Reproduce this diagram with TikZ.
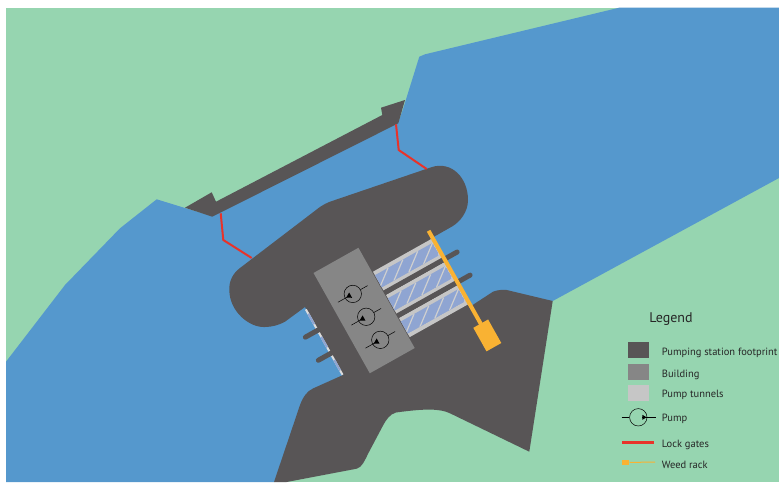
\documentclass[tikz,border=0pt]{standalone}
\usepackage{fontspec}
\setmainfont{PT Sans}
\definecolor{landgreen}{HTML}{96D5B0}
\definecolor{waterblue}{HTML}{5598CD}
\definecolor{stationgrey}{HTML}{585556}
\definecolor{buildinggrey}{HTML}{868686}
\definecolor{tunnelgrey}{HTML}{C6C6C6}
\definecolor{cellblue}{HTML}{8FA5D2}
\definecolor{rackorange}{HTML}{F9B233}
\definecolor{gatered}{HTML}{E8332A}
\tikzset{
  pier/.style={stationgrey,line width=5pt,line cap=round},
  gateline/.style={gatered,line width=2pt},
  rackline/.style={rackorange,line width=4pt},
  pumpring/.style={circle,draw=black,line width=0.5pt,inner sep=0pt,minimum size=17.4pt},
  pumpline/.style={black,line width=0.5pt},
  swatch/.style={minimum width=21.5pt,minimum height=15.8pt,inner sep=0pt},
  keylabel/.style={anchor=west,inner sep=0pt,font=\fontsize{10.5}{12}\selectfont,text=black!85},
}
\begin{document}
\begin{tikzpicture}[x=1pt,y=-1pt]
      \useasboundingbox (0,0) rectangle (779,482);
      \fill[white] (0,0) rectangle (779,482);
      \fill[landgreen] (6,7.5) rectangle (779,482);

      % water
      \fill[waterblue] (6,361.7) -- (65,285) -- (120,228.3) -- (156.7,199.3) -- (185,208)
        -- (212,216) -- (398,123) -- (402.7,110) -- (419.3,56.7) -- (425,54.3) -- (620,7.5)
        -- (779,7.5) -- (779,178) -- (552.7,301) -- (460,340) -- (330,400) -- (274,482)
        -- (6,482) -- cycle;

      % top wall
      \fill[stationgrey] (185,207.7) -- (211.7,192.3) -- (216,201.7) -- (382.3,115) -- (381,107.7)
        -- (405,100) -- (398.3,123.3) -- (212.3,216.7) -- cycle;

      % footprint
      \fill[stationgrey] (240,268) -- (316,210) .. controls (322,205) and (328,202) .. (335,200)
        -- (432,167) .. controls (452,161) and (468,178) .. (468,200)
        .. controls (468,212) and (460,222) .. (451.7,226.7) -- (430,239) -- (470,306.7)
        -- (493,291.7) .. controls (497,290) and (503,289.5) .. (506.7,290) -- (552.7,301)
        -- (529.3,451.7) -- (450,413.3) .. controls (440,408.5) and (425,408.5) .. (396,412.5)
        .. controls (390,414) and (386,420) .. (383.3,425) -- (368.3,453.3)
        .. controls (365,460) and (362,467.5) .. (356.7,468.7) -- (286.7,482) -- (274,482)
        -- (300,405) .. controls (303,397) and (307,391) .. (313.3,388.3) -- (343,375)
        -- (305,307) -- (285,321.7) .. controls (279,325) and (272,327) .. (265,327)
        .. controls (250,328) and (229.5,312) .. (229.3,290)
        .. controls (229,282) and (232,274) .. (240,268) -- cycle;

      % lock gates
      \coordinate (gateAa) at (220.7,213.3);
      \coordinate (gateAb) at (223.3,240);
      \coordinate (gateAc) at (251.7,258);
      \coordinate (gateBa) at (396,124.3);
      \coordinate (gateBb) at (398.7,150);
      \coordinate (gateBc) at (426.7,169);
      \draw[gateline] (gateAa) -- (gateAb) -- (gateAc);
      \draw[gateline] (gateBa) -- (gateBb) -- (gateBc);

      \begin{scope}[shift={(373,271.7)},rotate=29.3]
        % tunnels and outlets
        \foreach \row in {0,26.5,53}{
          \fill[tunnelgrey] (0,\row) rectangle (67,\row+22);
          \begin{scope}
            \clip (0,\row+4) rectangle (66,\row+18);
            \fill[cellblue] (0,\row+4) rectangle (66,\row+18);
            \foreach \cell in {-3,14,31,48,65}
              \draw[tunnelgrey!85!white,line width=1.2pt] (\cell,\row+18) -- (\cell+18,\row+4);
          \end{scope}
          \draw[tunnelgrey!60!white,line width=2pt] (-77,\row) -- (-77,\row+22);
          \draw[cellblue,line width=2pt] (-77,\row+5) -- (-77,\row+17);
        }
        \coordinate (pierAa) at (0,24);
        \coordinate (pierAb) at (83,24);
        \coordinate (pierBa) at (0,50.5);
        \coordinate (pierBb) at (83,50.5);
        \coordinate (pierCa) at (-76,24);
        \coordinate (pierCb) at (-91,24);
        \coordinate (pierDa) at (-76,50.5);
        \coordinate (pierDb) at (-91,50.5);
        \draw[pier] (pierAa) -- (pierAb);
        \draw[pier] (pierBa) -- (pierBb);
        \draw[pier] (pierCa) -- (pierCb);
        \draw[pier] (pierDa) -- (pierDb);

        % weed rack
        \coordinate (rackA) at (68.5,-8.5);
        \coordinate (rackB) at (68.5,100);
        \draw[rackline] (rackA) -- (rackB);
        \fill[rackorange] (60,98) rectangle (77,125);

        % building and pumps
        \fill[buildinggrey] (-52.5,-28) rectangle (-1,87);
        \node[pumpring] (pumpA) at (-28.5,9.5){};
        \node[pumpring] (pumpB) at (-28,36){};
        \node[pumpring] (pumpC) at (-27,63){};
        \foreach \pump in {pumpA,pumpB,pumpC}{
          \draw[pumpline] (\pump.center) ++(8.7,0) -- ++(8.3,0);
          \draw[pumpline] (\pump.center) ++(-4,0) -- ++(-13,0);
          \fill[black] (\pump.center) ++(-2.5,-3) -- ++(0,6) -- ++(-5,-3) -- cycle;
        }
      \end{scope}

      % legend
      \node[inner sep=0pt,font=\fontsize{14}{16}\selectfont,text=black!85] (legendtitle) at (671,319.5){Legend};
      \node[swatch,fill=stationgrey] (keystation) at (638.3,349.9){};
      \node[swatch,fill=buildinggrey] (keybuilding) at (638.3,371.9){};
      \node[swatch,fill=tunnelgrey] (keytunnel) at (638.3,393.3){};
      \node[pumpring] (keypump) at (638.3,417.3){};
      \coordinate (keypumpL) at (621.7,417.3);
      \coordinate (keypumpR) at (655.7,417.3);
      \draw[pumpline] (keypumpL) -- (keypump);
      \draw[pumpline] (keypump.center) ++(4,0) -- (keypumpR);
      \fill[black] (keypump.center) ++(4,-2.5) -- ++(0,5) -- ++(4.3,-2.5) -- cycle;
      \coordinate (keygateL) at (622,442.3);
      \coordinate (keygateR) at (654.3,442.3);
      \draw[gatered,line width=2.6pt] (keygateL) -- (keygateR);
      \node[minimum width=7.3pt,minimum height=4.7pt,inner sep=0pt,fill=rackorange] (keyrack) at (625.7,462.5){};
      \coordinate (keyrackR) at (655,462);
      \draw[rackorange,line width=1pt] (keyrack) -- (keyrackR);

      \node[keylabel] (labelstation) at (661.7,352.5){Pumping station footprint};
      \node[keylabel] (labelbuilding) at (661.7,374.5){Building};
      \node[keylabel] (labeltunnel) at (661.7,394.8){Pump tunnels};
      \node[keylabel] (labelpump) at (661.7,418.8){Pump};
      \node[keylabel] (labelgate) at (661.7,444.8){Lock gates};
      \node[keylabel] (labelrack) at (661.7,464.5){Weed rack};
    \end{tikzpicture}
\end{document}
